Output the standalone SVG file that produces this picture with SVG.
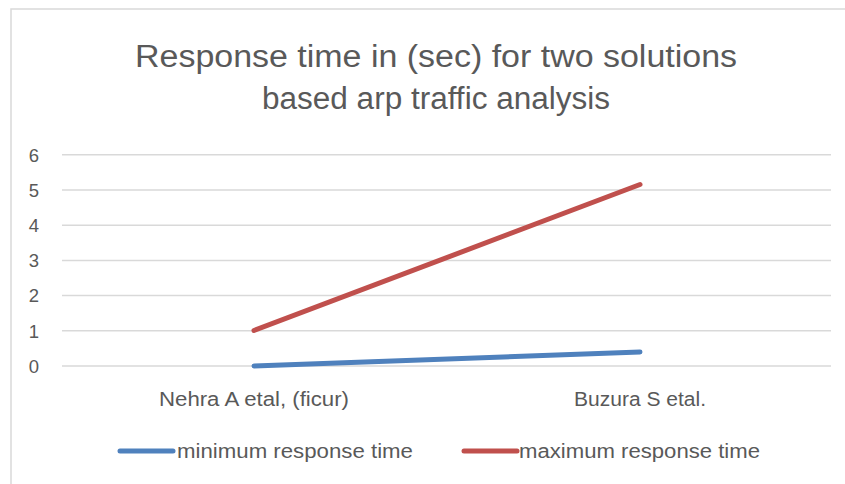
<svg xmlns="http://www.w3.org/2000/svg" width="845" height="484" viewBox="0 0 845 484">
  <style>
    .txt { font-family: "Liberation Sans", Arial, sans-serif; fill: #595959; }
    .title { font-size: 31px; text-anchor: middle; }
    .axis { font-size: 18.5px; text-anchor: middle; }
    .cat { font-size: 20px; text-anchor: middle; }
    .leg { font-size: 20px; }
    .grid { stroke: #d9d9d9; stroke-width: 1.5; }
    .series { fill: none; stroke-width: 5; stroke-linecap: round; }
    .min { stroke: #4f81bd; }
    .max { stroke: #c0504d; }
  </style>
  <rect x="0" y="0" width="845" height="484" fill="#ffffff"/>
  <!-- chart frame -->
  <rect x="11" y="9" width="850" height="490" fill="none" stroke="#d9d9d9" stroke-width="1.5"/>

  <!-- title -->
  <g id="title">
    <text class="txt title" x="436" y="67" textLength="602" lengthAdjust="spacingAndGlyphs">Response time in (sec) for two solutions</text>
    <text class="txt title" x="436" y="109" textLength="348" lengthAdjust="spacingAndGlyphs">based arp traffic analysis</text>
  </g>

  <!-- gridlines -->
  <g id="gridlines">
    <line class="grid" x1="62" y1="366" x2="831" y2="366"/>
    <line class="grid" x1="62" y1="330.8" x2="831" y2="330.8"/>
    <line class="grid" x1="62" y1="295.6" x2="831" y2="295.6"/>
    <line class="grid" x1="62" y1="260.4" x2="831" y2="260.4"/>
    <line class="grid" x1="62" y1="225.2" x2="831" y2="225.2"/>
    <line class="grid" x1="62" y1="190" x2="831" y2="190"/>
    <line class="grid" x1="62" y1="154.8" x2="831" y2="154.8"/>
  </g>

  <!-- value axis -->
  <g id="value-axis">
    <text class="txt axis" x="34" y="372.5">0</text>
    <text class="txt axis" x="34" y="337.5">1</text>
    <text class="txt axis" x="34" y="302">2</text>
    <text class="txt axis" x="34" y="267">3</text>
    <text class="txt axis" x="34" y="232">4</text>
    <text class="txt axis" x="34" y="196.5">5</text>
    <text class="txt axis" x="34" y="161.5">6</text>
  </g>

  <!-- category axis -->
  <g id="category-axis">
    <text class="txt cat" x="254" y="406" textLength="190" lengthAdjust="spacingAndGlyphs">Nehra A etal, (ficur)</text>
    <text class="txt cat" x="640" y="406" textLength="132" lengthAdjust="spacingAndGlyphs">Buzura S etal.</text>
  </g>

  <!-- data series -->
  <g id="series">
    <polyline class="series min" points="254,366 640,352"/>
    <polyline class="series max" points="254,330.5 640,184.5"/>
  </g>

  <!-- legend -->
  <g id="legend">
    <line class="series min" x1="120" y1="451" x2="173" y2="451"/>
    <text class="txt leg" x="177" y="458" textLength="236" lengthAdjust="spacingAndGlyphs">minimum response time</text>
    <line class="series max" x1="464" y1="451" x2="517" y2="451"/>
    <text class="txt leg" x="519" y="458" textLength="241" lengthAdjust="spacingAndGlyphs">maximum response time</text>
  </g>
</svg>
